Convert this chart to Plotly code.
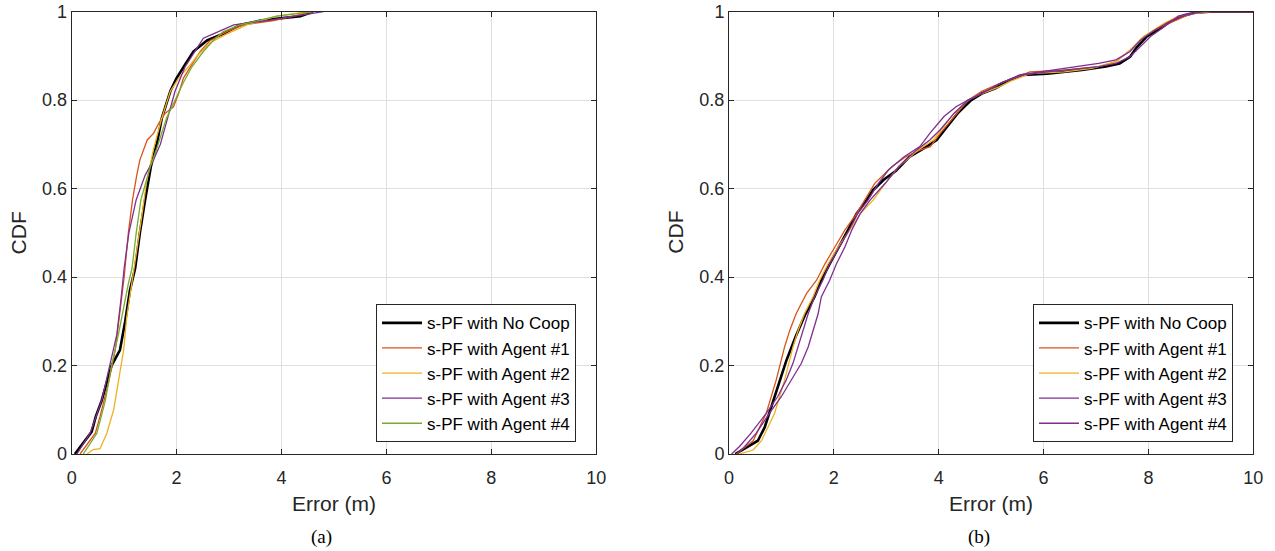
import plotly.graph_objects as go

# ---------------- data ----------------
# Panel (a)
a_nocoop_cdf = [0, 0.05, 0.085, 0.12, 0.2, 0.235, 0.3, 0.37, 0.42, 0.5, 0.575, 0.65, 0.70, 0.76, 0.82, 0.85, 0.88, 0.91, 0.935, 0.95, 0.97, 0.98, 0.99, 1.0]
a_nocoop_err = [0.06, 0.38, 0.46, 0.57, 0.76, 0.92, 1.02, 1.11, 1.21, 1.30, 1.40, 1.51, 1.62, 1.72, 1.88, 2.0, 2.16, 2.32, 2.58, 2.89, 3.21, 3.6, 4.36, 4.6]

a_ag1_cdf = [0, 0.047, 0.085, 0.16, 0.235, 0.31, 0.40, 0.5, 0.575, 0.63, 0.665, 0.71, 0.725, 0.75, 0.77, 0.785, 0.815, 0.85, 0.88, 0.91, 0.935, 0.955, 0.97, 0.98, 0.99, 1.0]
a_ag1_err = [0.16, 0.45, 0.54, 0.70, 0.83, 0.91, 1.0, 1.08, 1.16, 1.24, 1.30, 1.44, 1.56, 1.67, 1.78, 1.94, 2.04, 2.13, 2.29, 2.45, 2.64, 2.96, 3.28, 3.85, 4.23, 4.58]

a_ag2_cdf = [0, 0.01, 0.012, 0.047, 0.1, 0.16, 0.235, 0.31, 0.385, 0.46, 0.54, 0.61, 0.69, 0.76, 0.82, 0.85, 0.88, 0.90, 0.93, 0.95, 0.97, 0.99, 1.0]
a_ag2_err = [0.29, 0.41, 0.54, 0.67, 0.80, 0.89, 0.99, 1.05, 1.15, 1.24, 1.34, 1.42, 1.56, 1.72, 1.88, 2.04, 2.26, 2.39, 2.64, 2.96, 3.34, 3.91, 4.52]

a_ag3_cdf = [0, 0.047, 0.12, 0.2, 0.27, 0.35, 0.42, 0.5, 0.575, 0.63, 0.665, 0.70, 0.74, 0.78, 0.82, 0.875, 0.91, 0.94, 0.95, 0.97, 0.98, 0.99, 1.0]
a_ag3_err = [0.10, 0.35, 0.57, 0.73, 0.86, 0.94, 1.0, 1.09, 1.23, 1.40, 1.56, 1.69, 1.78, 1.88, 1.97, 2.16, 2.35, 2.51, 2.70, 3.09, 3.72, 4.23, 4.80]

a_ag4_cdf = [0, 0.047, 0.12, 0.2, 0.27, 0.35, 0.385, 0.42, 0.5, 0.575, 0.65, 0.69, 0.725, 0.76, 0.80, 0.84, 0.875, 0.91, 0.935, 0.955, 0.97, 0.99, 1.0]
a_ag4_err = [0.22, 0.48, 0.64, 0.76, 0.89, 1.02, 1.08, 1.15, 1.23, 1.32, 1.50, 1.62, 1.72, 1.81, 1.97, 2.13, 2.29, 2.51, 2.70, 2.89, 3.21, 3.91, 4.61]

# Panel (b)
b_nocoop_cdf = [0, 0.017, 0.03, 0.06, 0.092, 0.13, 0.167, 0.21, 0.265, 0.317, 0.355, 0.393, 0.43, 0.468, 0.506, 0.543, 0.573, 0.597, 0.62, 0.64, 0.672, 0.695, 0.71, 0.74, 0.77, 0.80, 0.815, 0.827, 0.845, 0.857, 0.86, 0.868, 0.876, 0.883, 0.898, 0.92, 0.944, 0.958, 0.974, 0.99, 0.998, 1.0, 1.0]
b_nocoop_err = [0.12, 0.36, 0.55, 0.68, 0.77, 0.87, 0.97, 1.09, 1.27, 1.46, 1.63, 1.76, 1.92, 2.10, 2.27, 2.43, 2.62, 2.75, 2.95, 3.18, 3.44, 3.77, 3.96, 4.16, 4.36, 4.62, 4.82, 5.08, 5.35, 5.61, 6.07, 6.73, 7.19, 7.45, 7.65, 7.78, 7.97, 8.17, 8.37, 8.63, 8.9, 9.16, 10]

b_ag1_cdf = [0, 0.03, 0.092, 0.167, 0.242, 0.28, 0.317, 0.363, 0.393, 0.43, 0.468, 0.506, 0.543, 0.574, 0.612, 0.65, 0.672, 0.687, 0.695, 0.725, 0.763, 0.80, 0.82, 0.84, 0.864, 0.868, 0.876, 0.887, 0.913, 0.944, 0.966, 0.98, 0.996, 1.0, 1.0]
b_ag1_err = [0.14, 0.46, 0.71, 0.90, 1.06, 1.16, 1.28, 1.48, 1.67, 1.83, 2.02, 2.21, 2.43, 2.58, 2.78, 3.11, 3.37, 3.64, 3.84, 4.03, 4.29, 4.56, 4.82, 5.21, 5.74, 6.40, 7.05, 7.38, 7.65, 7.91, 8.24, 8.50, 8.83, 9.16, 10]

b_ag2_cdf = [0, 0.009, 0.03, 0.092, 0.167, 0.242, 0.28, 0.317, 0.355, 0.393, 0.43, 0.468, 0.506, 0.543, 0.574, 0.612, 0.65, 0.687, 0.71, 0.74, 0.77, 0.80, 0.815, 0.83, 0.842, 0.86, 0.864, 0.872, 0.887, 0.913, 0.944, 0.974, 0.99, 0.996, 1.0, 1.0]
b_ag2_err = [0.20, 0.46, 0.62, 0.87, 1.06, 1.22, 1.32, 1.44, 1.60, 1.73, 1.89, 2.08, 2.30, 2.50, 2.75, 2.98, 3.24, 3.60, 3.90, 4.10, 4.29, 4.56, 4.82, 5.15, 5.35, 5.74, 6.40, 6.92, 7.38, 7.65, 7.91, 8.30, 8.57, 8.90, 9.2, 10]

b_ag3_cdf = [0, 0.017, 0.047, 0.092, 0.13, 0.167, 0.205, 0.242, 0.28, 0.317, 0.355, 0.393, 0.43, 0.468, 0.506, 0.543, 0.574, 0.612, 0.642, 0.672, 0.695, 0.725, 0.763, 0.785, 0.80, 0.815, 0.84, 0.857, 0.872, 0.883, 0.891, 0.91, 0.935, 0.958, 0.98, 0.992, 1.0, 1.0]
b_ag3_err = [0.05, 0.2, 0.42, 0.71, 0.93, 1.09, 1.22, 1.32, 1.41, 1.51, 1.63, 1.79, 1.92, 2.11, 2.29, 2.45, 2.65, 2.85, 3.04, 3.34, 3.64, 3.83, 4.10, 4.33, 4.56, 4.82, 5.21, 5.54, 6.40, 7.05, 7.38, 7.65, 7.84, 8.11, 8.44, 8.70, 9.03, 10]

b_ag4_cdf = [0, 0.017, 0.047, 0.092, 0.13, 0.167, 0.205, 0.242, 0.28, 0.317, 0.355, 0.393, 0.43, 0.468, 0.506, 0.543, 0.574, 0.612, 0.65, 0.687, 0.71, 0.733, 0.77, 0.80, 0.815, 0.84, 0.857, 0.864, 0.876, 0.883, 0.898, 0.92, 0.944, 0.966, 0.99, 0.996, 1.0, 1.0]
b_ag4_err = [0.15, 0.30, 0.52, 0.77, 1.0, 1.19, 1.38, 1.51, 1.60, 1.70, 1.76, 1.92, 2.05, 2.21, 2.34, 2.50, 2.69, 2.98, 3.24, 3.57, 3.83, 4.03, 4.29, 4.56, 4.82, 5.21, 5.61, 6.07, 7.05, 7.38, 7.65, 7.84, 8.04, 8.30, 8.57, 8.76, 9.09, 10]

names = ["s-PF with No Coop", "s-PF with Agent #1", "s-PF with Agent #2",
         "s-PF with Agent #3", "s-PF with Agent #4"]
x_ticks = [0, 2, 4, 6, 8, 10]
y_ticks = [0, 0.2, 0.4, 0.6, 0.8, 1]
y_tick_text = ["0", "0.2", "0.4", "0.6", "0.8", "1"]

# ---------------- styling ----------------
colors_a = ["#000000", "#D95319", "#EDB120", "#7E2F8E", "#77AC30"]
colors_b = ["#000000", "#D95319", "#EDB120", "#7E2F8E", "#7E2F8E"]
widths = [2.6, 1.3, 1.3, 1.3, 1.3]
AX = "#262626"
GRID = "#dfdfdf"
SANS = "Liberation Sans, Arial, Helvetica, sans-serif"
SERIF = "Liberation Serif, Times New Roman, serif"

W, H = 1275, 551
def px_x(p):
    return p / W
def px_y(p):
    return 1 - p / H

top_px, bot_px = 11.7, 454.0
a_l, a_r = 71.7, 596.2
b_l, b_r = 729.0, 1253.3

fig = go.Figure()

series_a = [(a_nocoop_err, a_nocoop_cdf), (a_ag1_err, a_ag1_cdf), (a_ag2_err, a_ag2_cdf),
            (a_ag3_err, a_ag3_cdf), (a_ag4_err, a_ag4_cdf)]
series_b = [(b_nocoop_err, b_nocoop_cdf), (b_ag1_err, b_ag1_cdf), (b_ag2_err, b_ag2_cdf),
            (b_ag3_err, b_ag3_cdf), (b_ag4_err, b_ag4_cdf)]

for i, (xs, ys) in enumerate(series_a):
    fig.add_trace(go.Scatter(x=xs, y=ys, mode="lines", name=names[i],
                             line=dict(color=colors_a[i], width=widths[i]),
                             xaxis="x", yaxis="y", legend="legend"))
for i, (xs, ys) in enumerate(series_b):
    fig.add_trace(go.Scatter(x=xs, y=ys, mode="lines", name=names[i],
                             line=dict(color=colors_b[i], width=widths[i]),
                             xaxis="x2", yaxis="y2", legend="legend2"))

def xaxis(dom, anchor):
    return dict(domain=dom, anchor=anchor, range=[0, 10], tickvals=x_ticks,
                showgrid=True, gridcolor=GRID, gridwidth=1, zeroline=False,
                showline=True, linecolor=AX, linewidth=1, mirror="ticks",
                ticks="inside", ticklen=5, tickcolor=AX, tickwidth=1,
                ticklabelstandoff=7,
                tickfont=dict(family=SANS, size=18, color=AX), automargin=False)

def yaxis(dom, anchor):
    return dict(domain=dom, anchor=anchor, range=[0, 1], tickvals=y_ticks,
                ticktext=y_tick_text,
                showgrid=True, gridcolor=GRID, gridwidth=1, zeroline=False,
                showline=True, linecolor=AX, linewidth=1, mirror="ticks",
                ticks="inside", ticklen=5, tickcolor=AX, tickwidth=1,
                tickfont=dict(family=SANS, size=18, color=AX), automargin=False)

ydom = [px_y(bot_px), px_y(top_px)]

legend_common = dict(bgcolor="white", bordercolor=AX, borderwidth=1,
                     font=dict(family=SANS, size=17, color="#000000"),
                     xanchor="right", yanchor="bottom", itemwidth=40,
                     tracegroupgap=0)

annotations = []
for (l, r, cap) in [(a_l, a_r, "(a)"), (b_l, b_r, "(b)")]:
    cx = (l + r) / 2
    annotations.append(dict(text="Error (m)", x=px_x(cx), y=px_y(503.5), xref="paper", yref="paper",
                            xanchor="center", yanchor="middle", showarrow=False,
                            font=dict(family=SANS, size=21, color=AX)))
    annotations.append(dict(text=cap, x=px_x(cx - 12.6), y=px_y(537), xref="paper", yref="paper",
                            xanchor="center", yanchor="middle", showarrow=False,
                            font=dict(family=SERIF, size=19, color="#000000")))
    annotations.append(dict(text="CDF", x=px_x(l - 53), y=px_y(232.7),
                            xref="paper", yref="paper", textangle=-90,
                            xanchor="center", yanchor="middle", showarrow=False,
                            font=dict(family=SANS, size=21, color=AX)))

fig.update_layout(
    width=W, height=H,
    margin=dict(l=0, r=0, t=0, b=0),
    paper_bgcolor="white", plot_bgcolor="white",
    xaxis=xaxis([px_x(a_l), px_x(a_r)], "y"),
    yaxis=yaxis(ydom, "x"),
    xaxis2=xaxis([px_x(b_l), px_x(b_r)], "y2"),
    yaxis2=yaxis(ydom, "x2"),
    legend=dict(x=px_x(576), y=px_y(442.3), **legend_common),
    legend2=dict(x=px_x(1233), y=px_y(442.3), **legend_common),
    annotations=annotations,
    showlegend=True,
)

fig.write_html(
    "out.html",
    config={"displayModeBar": False},
    post_script="document.body.style.margin='0';document.body.style.padding='0';"
                "document.documentElement.style.overflow='hidden';",
)
